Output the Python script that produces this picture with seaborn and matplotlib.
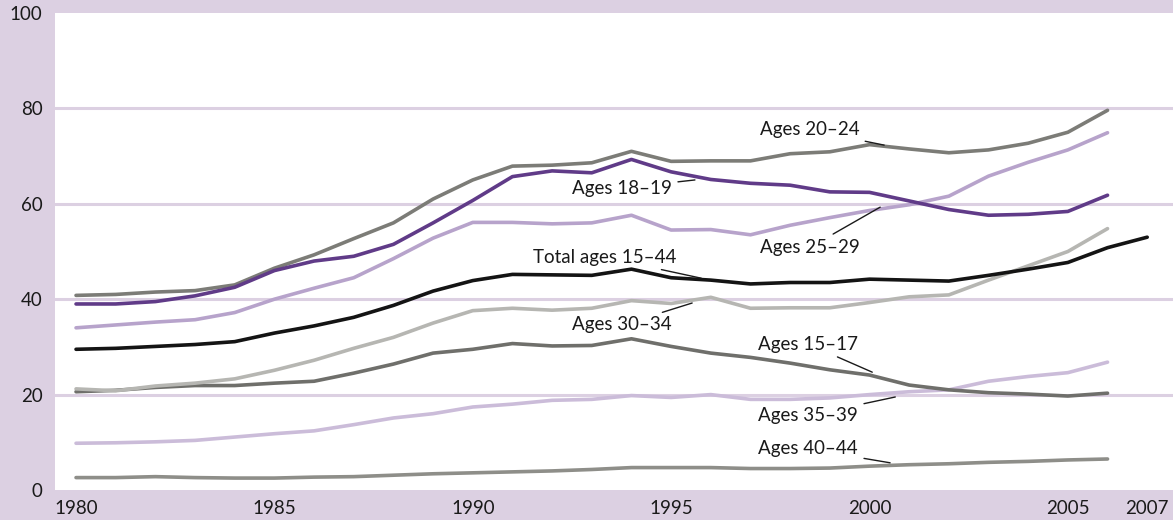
import numpy as np
import pandas as pd
import matplotlib
matplotlib.use("Agg")
import matplotlib.pyplot as plt
import seaborn as sns

years = list(range(1980, 2007))
years_total = list(range(1980, 2008))

ages_20_24 = [40.8, 41.0, 41.5, 41.8, 43.0, 46.5, 49.3, 52.7, 56.0, 61.0, 65.0, 67.9, 68.1, 68.6, 71.0,
              68.9, 69.0, 69.0, 70.5, 70.9, 72.4, 71.5, 70.7, 71.3, 72.7, 75.0, 79.6]
ages_18_19 = [39.0, 39.0, 39.5, 40.7, 42.5, 46.0, 48.0, 49.0, 51.5, 56.0, 60.7, 65.7, 66.9, 66.5, 69.3,
              66.7, 65.1, 64.3, 63.9, 62.5, 62.4, 60.6, 58.8, 57.6, 57.8, 58.4, 61.8]
ages_25_29 = [34.0, 34.6, 35.2, 35.7, 37.2, 40.0, 42.3, 44.5, 48.5, 52.8, 56.1, 56.1, 55.8, 56.0, 57.6,
              54.5, 54.6, 53.5, 55.5, 57.1, 58.6, 59.8, 61.6, 65.8, 68.7, 71.3, 74.9]
total_15_44 = [29.5, 29.7, 30.1, 30.5, 31.1, 32.9, 34.4, 36.2, 38.7, 41.7, 43.9, 45.2, 45.1, 45.0, 46.3,
               44.5, 44.0, 43.2, 43.5, 43.5, 44.2, 44.0, 43.8, 45.0, 46.3, 47.7, 50.8, 53.0]
ages_30_34 = [21.2, 20.8, 21.8, 22.4, 23.3, 25.1, 27.2, 29.7, 32.0, 35.0, 37.6, 38.1, 37.7, 38.1, 39.7,
              39.1, 40.4, 38.1, 38.2, 38.2, 39.3, 40.5, 40.9, 44.0, 47.0, 50.0, 54.8]
ages_15_17 = [20.6, 20.9, 21.5, 21.9, 21.9, 22.4, 22.8, 24.5, 26.4, 28.7, 29.5, 30.7, 30.2, 30.3, 31.7,
              30.1, 28.7, 27.8, 26.6, 25.2, 24.1, 22.0, 21.0, 20.4, 20.1, 19.7, 20.3]
ages_35_39 = [9.8, 9.9, 10.1, 10.4, 11.1, 11.8, 12.4, 13.7, 15.1, 16.0, 17.4, 18.0, 18.8, 19.0, 19.8,
              19.4, 20.0, 19.0, 19.0, 19.3, 20.0, 20.6, 21.0, 22.8, 23.8, 24.6, 26.8]
ages_40_44 = [2.6, 2.6, 2.8, 2.6, 2.5, 2.5, 2.7, 2.8, 3.1, 3.4, 3.6, 3.8, 4.0, 4.3, 4.7,
              4.7, 4.7, 4.5, 4.5, 4.6, 5.0, 5.3, 5.5, 5.8, 6.0, 6.3, 6.5]

series_names = ["Ages 40–44", "Ages 35–39", "Ages 15–17", "Ages 30–34", "Ages 25–29",
                "Ages 20–24", "Ages 18–19", "Total ages 15–44"]
series_values = [ages_40_44, ages_35_39, ages_15_17, ages_30_34, ages_25_29,
                 ages_20_24, ages_18_19, total_15_44]
series_years = [years] * 7 + [years_total]

xtick_labels = ["1980", "1985", "1990", "1995", "2000", "2005", "2007"]
ytick_values = [0, 20, 40, 60, 80, 100]

colors = {
    "Ages 40–44": "#8e8e89",
    "Ages 35–39": "#cbbcd9",
    "Ages 15–17": "#6f6f6b",
    "Ages 30–34": "#b6b6b2",
    "Ages 25–29": "#b7a3cb",
    "Ages 20–24": "#7c7c77",
    "Ages 18–19": "#603b88",
    "Total ages 15–44": "#141414",
}

rows = []
for name, yrs, vals in zip(series_names, series_years, series_values):
    for yr, v in zip(yrs, vals):
        rows.append({"year": yr, "value": v, "series": name})
df = pd.DataFrame(rows)

sns.set_style("white")
plt.rcParams["font.family"] = ["Lato", "DejaVu Sans"]

lav = "#dcd0e2"
fig = plt.figure(figsize=(11.73, 5.20), dpi=100, facecolor=lav)
ax = fig.add_axes([55 / 1173, 30 / 520, 1 - 55 / 1173, (490 - 13) / 520])
ax.set_facecolor("white")

for y in [20, 40, 60, 80]:
    ax.axhline(y, color=lav, lw=2.2, zorder=0)

sns.lineplot(data=df, x="year", y="value", hue="series", hue_order=series_names,
             palette=colors, linewidth=2.6, legend=False, ax=ax, zorder=3)

ax.set_xlim(1979.47, 2007.65)
ax.set_ylim(0, 100)
for s in ax.spines.values():
    s.set_visible(False)

ax.set_xticks(years_total)
ax.set_xticklabels([str(y) if str(y) in xtick_labels else "" for y in years_total])
ax.tick_params(axis="x", direction="in", length=9, width=2, color=lav, pad=7,
               labelsize=13.5, labelcolor="#1a1a1a")
ax.set_yticks(ytick_values)
ax.set_yticklabels([str(v) for v in ytick_values])
ax.tick_params(axis="y", length=0, pad=9, labelsize=13.5, labelcolor="#1a1a1a")
ax.set_xlabel("")
ax.set_ylabel("")

labels = [
    ("Ages 20–24", (1999.74, 75.5), (2000.37, 72.3)),
    ("Ages 18–19", (1995.02, 63.3), (1995.6, 65.0)),
    ("Ages 25–29", (1999.76, 50.9), (2000.27, 59.3)),
    ("Total ages 15–44", (1995.12, 48.8), (1995.76, 44.4)),
    ("Ages 30–34", (1995.02, 34.6), (1995.53, 39.2)),
    ("Ages 15–17", (1999.71, 30.6), (2000.07, 24.7)),
    ("Ages 35–39", (1999.71, 15.6), (2000.65, 19.5)),
    ("Ages 40–44", (1999.71, 8.6), (2000.52, 5.7)),
]
for text, xyt, xy in labels:
    ax.annotate(text, xy=xy, xytext=xyt, ha="right", va="center", fontsize=13.5,
                color="#1a1a1a", zorder=5,
                arrowprops=dict(arrowstyle="-", color="#1a1a1a", lw=1.0,
                                shrinkA=2, shrinkB=0))

fig.savefig("out.png", dpi=100, facecolor=lav)
